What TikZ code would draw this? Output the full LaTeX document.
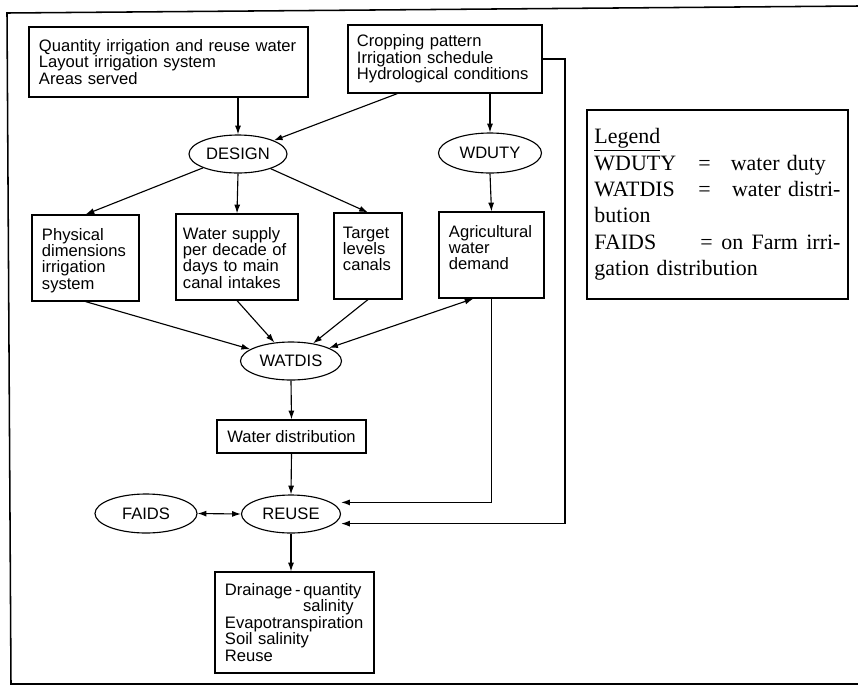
\documentclass[tikz,border=0pt]{standalone}
\usepackage{fontspec}
\setmainfont{Liberation Serif}
\setsansfont{Liberation Sans}
\usetikzlibrary{shapes.geometric, arrows.meta, calc}
\newcommand{\boxfont}{\sffamily\fontsize{11.8}{11.7}\selectfont}

\begin{document}
\begin{tikzpicture}[x=0.025cm, y=-0.025cm,
        box/.style={draw, line width=0.8pt, align=left, inner xsep=0.25cm, inner ysep=0.2cm, font=\boxfont},
        midbox/.style={box, text height=0.425cm, text depth=1.325cm},
        oval/.style={draw, ellipse, line width=0.8pt, inner sep=0pt, font=\boxfont},
        arr/.style={-{Latex[length=2.2mm, width=1.5mm]}, line width=0.8pt},
        twoarr/.style={{Latex[length=2.2mm, width=1.5mm]}-{Latex[length=2.2mm, width=1.5mm]}, line width=0.8pt}]
    \useasboundingbox (0,0) rectangle (858,687);
    \draw[line width=1.1pt] (858,6) -- (7,13) -- (11,684) -- (858,684);
    \node[box, text width=6.475cm, minimum height=1.75cm] (qty) at (168.5,62) {Quantity irrigation and reuse water\\Layout irrigation system\\Areas served};
    \node[box, text width=4.4cm, inner xsep=0.225cm, minimum height=1.7cm] (crop) at (445,59) {Cropping pattern\\Irrigation schedule\\Hydrological conditions};
    \node[oval, minimum width=2.45cm, minimum height=0.95cm] (design) at (238,154) {DESIGN};
    \node[oval, minimum width=2.575cm, minimum height=1.0cm] (wduty) at (490,153) {WDUTY};
    \node[midbox, text width=2.175cm] (phys) at (85.5,258) {Physical\\dimensions\\irrigation\\system};
    \node[midbox, text width=2.7cm, inner xsep=0.175cm] (supply) at (237,257) {Water supply\\per decade of\\days to main\\canal intakes};
    \node[midbox, text width=1.25cm, inner xsep=0.225cm] (target) at (368,256) {Target\\levels\\canals};
    \node[midbox, text width=2.125cm] (agri) at (491.5,255) {Agricultural\\water\\demand};
    \node[oval, minimum width=2.525cm, minimum height=0.95cm] (watdis) at (291,361) {WATDIS};
    \node[box, align=center, minimum width=3.725cm, minimum height=0.825cm] (wdist) at (291.5,436.5) {Water distribution};
    \node[oval, minimum width=2.475cm, minimum height=0.95cm] (reuse) at (291,514) {REUSE};
    \node[oval, minimum width=2.55cm, minimum height=0.975cm] (faids) at (146,513.5) {FAIDS};
    \node[box, text width=3.475cm, minimum height=2.525cm] (drain) at (294.5,622.5) {Drainage\,-\,quantity\\\hspace*{1.95cm}salinity\\Evapotranspiration\\Soil salinity\\Reuse};
    \node[draw, line width=0.8pt, align=left, text width=6.15cm, inner xsep=0.1875cm, minimum height=4.725cm, font=\fontsize{15.6}{18.8}\selectfont] (legend) at (717.5,204.5) {\underline{Legend}\\\makebox[\linewidth][l]{\makebox[2.6cm][l]{WDUTY}=\hspace{0.5cm}water duty}\\\makebox[\linewidth][l]{\makebox[2.6cm][l]{WATDIS}=\hfill water distri-}\\bution\\\makebox[\linewidth][l]{\makebox[2.65cm][l]{FAIDS}=\hfill on\hfill Farm\hfill irri-}\\gation distribution};
    \coordinate (reuseup) at ([yshift=0.29cm]reuse.east);
    \coordinate (reusedown) at ([yshift=-0.24cm]reuse.east);
    \coordinate (rightcol) at (565,59);
    \draw[arr] (design.north |- qty.south) -- (design.north);
    \draw[arr] ([xshift=1.25cm]crop.south west) -- (design);
    \draw[arr] (wduty.north |- crop.south) -- (wduty.north);
    \draw[arr] (wduty.south) -- (agri.north);
    \draw[arr] (design) -- (phys.north);
    \draw[arr] (design.south) -- (supply.north);
    \draw[arr] (design) -- (target.north);
    \draw[arr] (phys.south) -- (watdis);
    \draw[arr] (supply.south) -- (watdis);
    \draw[arr] (target.south) -- (watdis);
    \draw[twoarr] (watdis) -- ([xshift=-0.45cm]agri.south);
    \draw[arr] (watdis.south) -- (wdist.north);
    \draw[arr] (wdist.south) -- (reuse.north);
    \draw[twoarr] (faids.east) -- (reuse.west);
    \draw[arr] (reuse.south) -- (reuse.south |- drain.north);
    \draw[arr] (agri.south) |- (reuseup);
    \draw[arr] (crop.east) -| (rightcol |- reusedown) -- (reusedown);
\end{tikzpicture}
\end{document}
